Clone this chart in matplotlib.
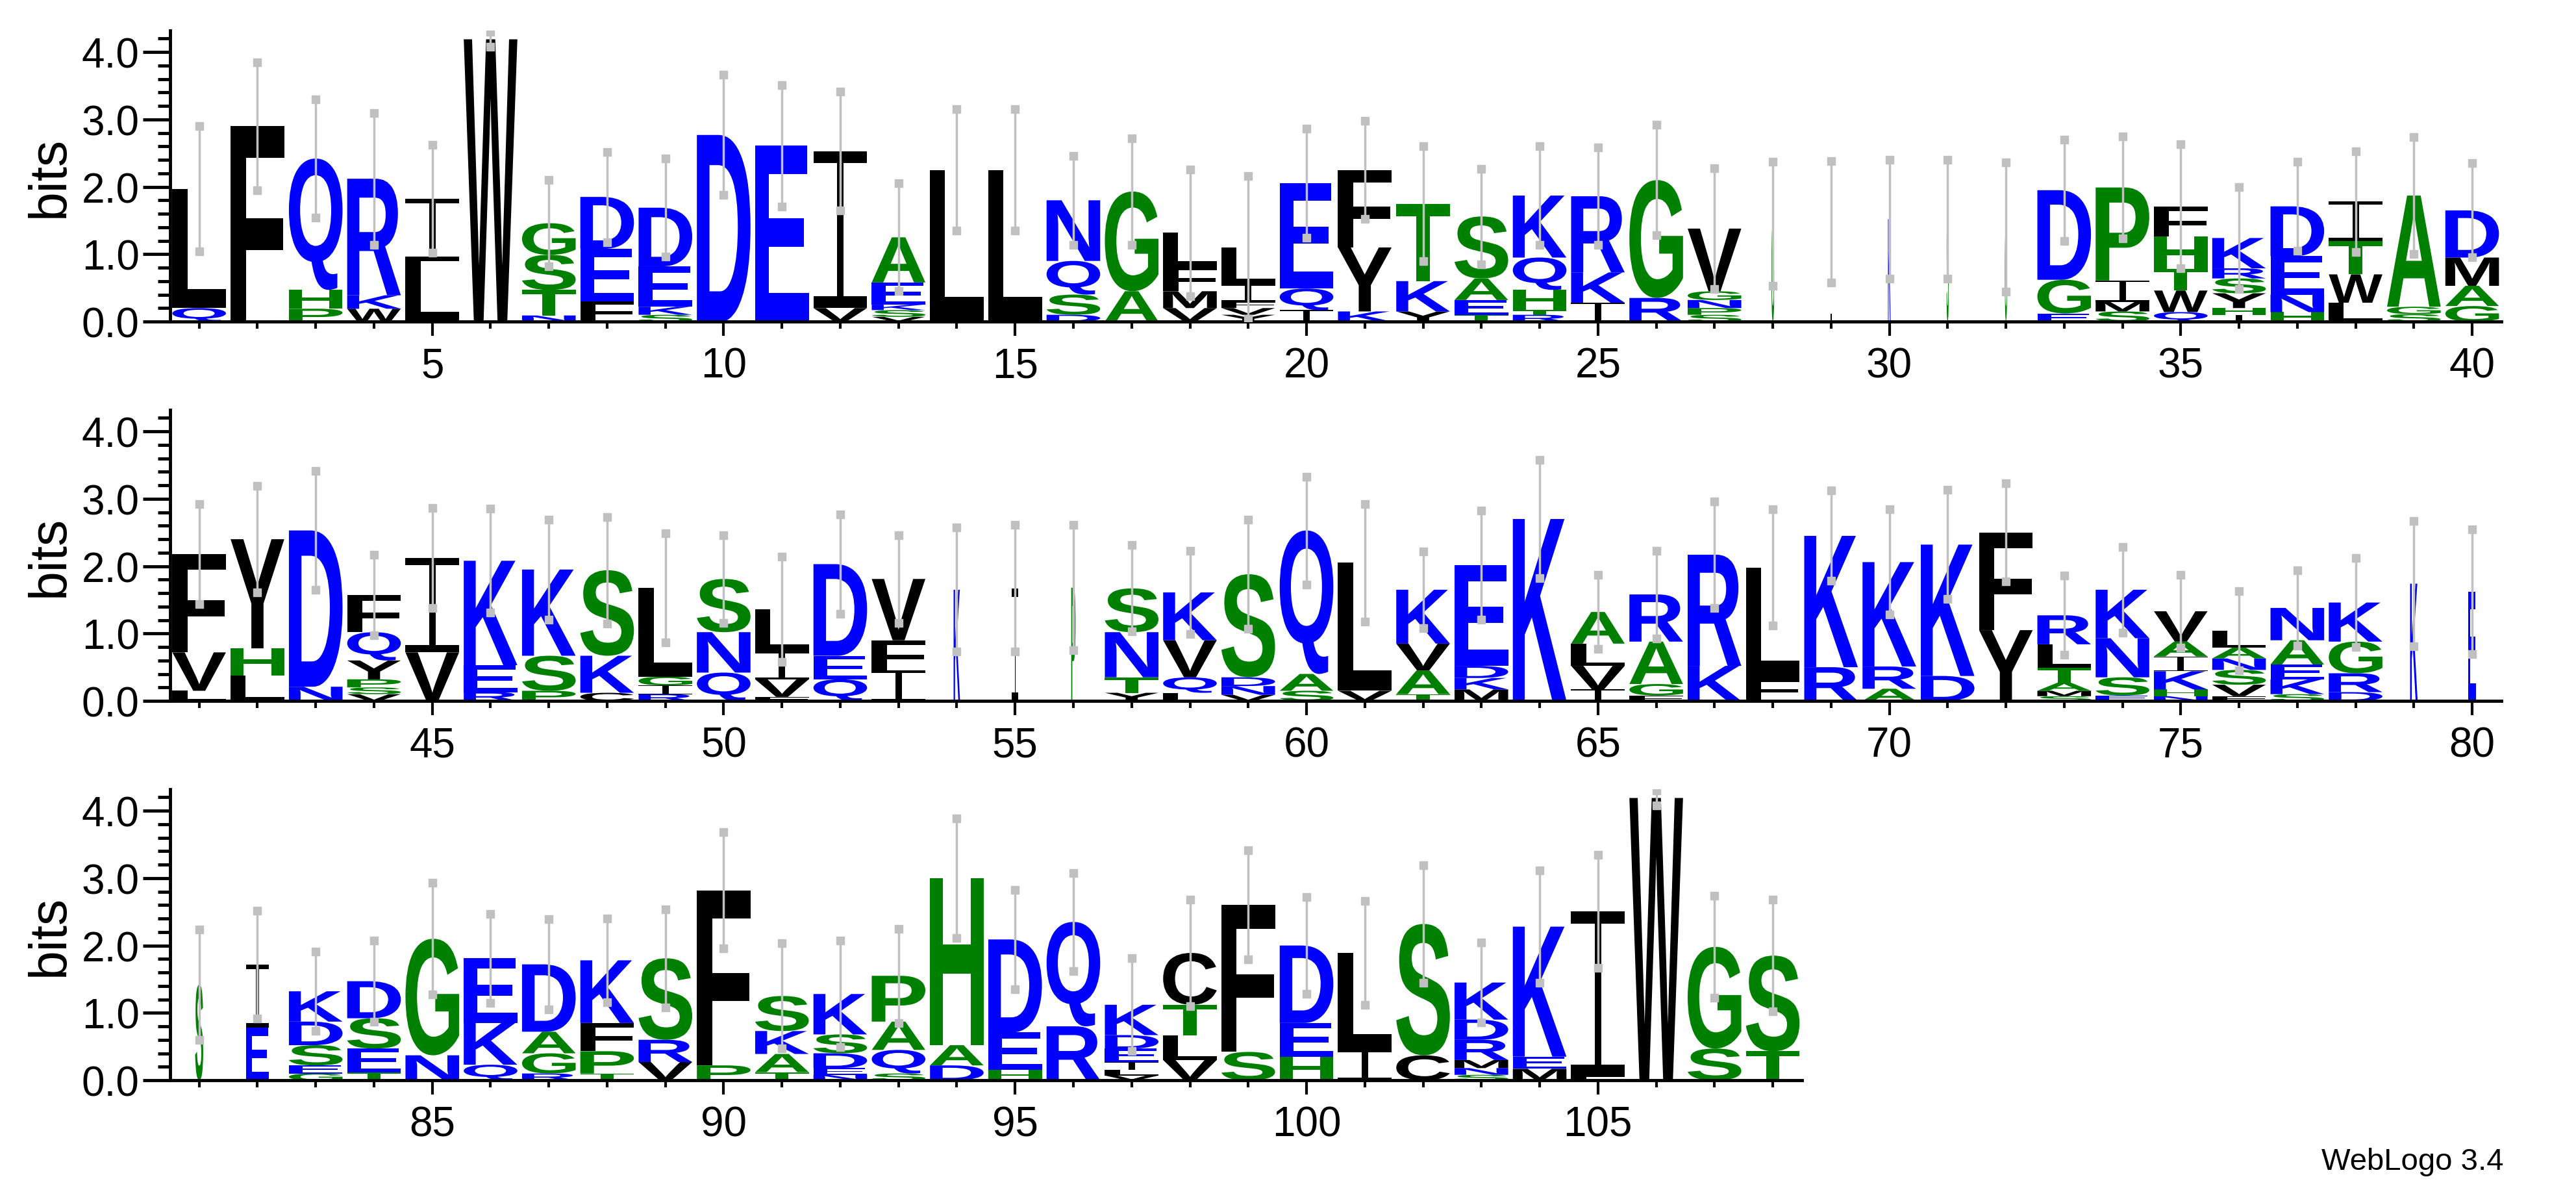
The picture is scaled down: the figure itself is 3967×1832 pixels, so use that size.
import matplotlib
matplotlib.use('Agg')
import matplotlib.pyplot as plt
from matplotlib.textpath import TextPath
from matplotlib.patches import PathPatch, Rectangle
from matplotlib.font_manager import FontProperties
from matplotlib.transforms import Affine2D
from matplotlib.ticker import MultipleLocator

# each column: letters bottom -> top with height in bits
columns = [
    "Q:0.20 L:1.77", "F:2.90", "P:0.19 H:0.28 Q:1.95", "W:0.19 K:0.20 R:1.73",
    "L:0.90 I:0.92", "W:4.19", "N:0.09 T:0.38 S:0.52 G:0.47", "F:0.30 E:0.78 D:0.77",
    "S:0.10 K:0.12 E:0.60 D:0.87", "D:2.77", "E:2.61", "V:0.20 I:2.33",
    "V:0.07 S:0.10 K:0.08 E:0.33 A:0.67", "L:2.25", "L:2.25", "D:0.10 S:0.30 Q:0.50 N:0.90",
    "A:0.45 G:1.48", "V:0.20 M:0.25 F:0.37 L:0.50", "Y:0.10 V:0.10 F:0.10 I:0.25 L:0.55",
    "I:0.17 Q:0.32 E:1.56", "K:0.15 Y:0.95 F:1.15", "Y:0.15 K:0.45 T:1.15",
    "T:0.10 E:0.22 A:0.32 S:0.92", "R:0.10 T:0.07 H:0.30 Q:0.48 K:0.92",
    "I:0.28 K:0.45 R:1.13", "R:0.35 G:1.75", "S:0.10 P:0.10 N:0.12 G:0.13 V:0.93",
    "G:1.45", "I:1.48", "K:1.52", "S:1.52", "G:1.40",
    "E:0.12 G:0.50 D:1.33", "S:0.15 M:0.14 I:0.32 P:1.38", "Q:0.14 W:0.32 T:0.32 H:0.48 F:0.45",
    "I:0.10 H:0.10 Y:0.22 S:0.22 R:0.15 K:0.45", "H:0.14 N:0.26 E:0.57 D:0.74",
    "L:0.28 W:0.42 T:0.50 I:0.58", "S:0.11 G:0.11 A:1.65", "G:0.23 A:0.30 M:0.42 D:0.70",
    # 41-80
    "L:0.15 V:0.57 F:1.46", "L:0.38 H:0.40 Y:1.62", "N:0.21 D:2.32",
    "V:0.10 S:0.10 P:0.12 Y:0.28 Q:0.42 F:0.55", "V:0.72 I:1.40", "R:0.13 E:0.40 K:1.55",
    "P:0.15 S:0.52 K:1.28", "C:0.12 K:0.55 S:1.27", "R:0.10 I:0.13 G:0.13 L:1.32",
    "Q:0.42 N:0.60 S:0.79", "F:0.06 V:0.26 I:0.42 L:0.62", "Q:0.32 E:0.35 D:1.36",
    "I:0.45 F:0.45 V:0.91", "K:1.65", "I:1.67", "P:1.68",
    "Y:0.12 T:0.23 N:0.67 S:0.65", "L:0.12 Q:0.23 V:0.55 K:0.71",
    "V:0.09 N:0.13 D:0.13 S:1.53", "S:0.15 A:0.25 Q:2.13", "V:0.15 L:1.90",
    "T:0.10 A:0.35 V:0.40 K:0.80", "M:0.17 K:0.17 D:0.18 E:1.50", "K:2.70",
    "I:0.17 V:0.35 L:0.33 A:0.47", "F:0.08 G:0.17 A:0.63 R:0.70", "K:0.52 R:1.65",
    "F:0.33 L:1.65", "R:0.50 K:1.95", "A:0.18 R:0.33 K:1.55", "D:0.37 K:1.95",
    "Y:1.05 F:1.45", "S:0.07 M:0.08 A:0.12 T:0.22 L:0.35 R:0.43", "E:0.08 S:0.27 N:0.58 K:0.72",
    "N:0.07 H:0.10 K:0.27 I:0.22 A:0.22 V:0.45", "F:0.07 V:0.17 S:0.22 N:0.17 A:0.16 L:0.25",
    "S:0.10 K:0.22 E:0.22 A:0.36 N:0.48", "D:0.13 R:0.28 G:0.47 K:0.58", "K:1.74", "E:1.62",
    # 81-108
    "S:1.42", "E:0.78 I:0.94", "G:0.10 E:0.12 S:0.30 D:0.35 K:0.45", "T:0.12 E:0.35 S:0.45 D:0.55",
    "N:0.37 G:1.73", "Q:0.23 K:0.62 E:0.96", "R:0.10 G:0.30 A:0.32 D:1.00",
    "T:0.10 P:0.33 F:0.42 K:0.93", "V:0.27 R:0.33 S:1.21", "P:0.22 F:2.60",
    "T:0.12 A:0.27 K:0.34 S:0.52", "N:0.08 E:0.10 D:0.22 S:0.28 K:0.60", "S:0.10 Q:0.35 A:0.42 P:0.68",
    "D:0.22 A:0.30 H:2.48", "H:0.15 E:0.56 D:1.38", "R:0.80 Q:1.55",
    "V:0.07 L:0.08 I:0.12 E:0.20 D:0.20 K:0.45", "V:0.30 L:0.37 T:0.45 C:0.77", "S:0.42 F:2.18",
    "H:0.35 E:0.50 D:1.15", "I:0.45 L:1.44", "C:0.37 S:1.95",
    "S:0.08 N:0.10 M:0.12 R:0.30 D:0.30 K:0.55", "M:0.17 E:0.18 K:1.93", "L:0.05 I:2.46",
    "W:4.19", "S:0.47 G:1.51", "T:0.43 S:1.42",
]

bar_tops = [
    2.90, 3.85, 3.30, 3.10, 2.62, 4.30, 2.10, 2.52, 2.42, 3.66,
    3.51, 3.41, 2.05, 3.15, 3.15, 2.46, 2.72, 2.26, 2.16, 2.86,
    2.98, 2.60, 2.27, 2.60, 2.58, 2.92, 2.28, 2.37, 2.38, 2.40,
    2.40, 2.36, 2.70, 2.75, 2.63, 2.00, 2.37, 2.53, 2.74, 2.35,
    2.92, 3.19, 3.41, 2.17, 2.86, 2.85, 2.69, 2.73, 2.49, 2.46,
    2.14, 2.77, 2.46, 2.57, 2.61, 2.61, 2.31, 2.23, 2.69, 3.33,
    2.92, 2.22, 2.83, 3.58, 1.87, 2.23, 2.96, 2.84, 3.12, 2.84,
    3.13, 3.23, 1.86, 2.29, 1.87, 1.63, 1.94, 2.12, 2.67, 2.55,
    2.24, 2.52, 1.91, 2.07, 2.93, 2.47, 2.39, 2.40, 2.54, 3.68,
    2.03, 2.07, 2.25, 3.89, 2.83, 3.08, 1.81, 2.68, 3.41, 2.72,
    2.66, 3.19, 2.04, 3.11, 3.35, 4.30, 2.74, 2.68,
]

# columns with low occupancy are drawn narrow
narrow = {28: 0.05, 29: 0.03, 30: 0.05, 31: 0.04, 32: 0.04, 54: 0.12, 55: 0.12,
          56: 0.08, 79: 0.14, 80: 0.14, 81: 0.15, 82: 0.43}

row_ranges = [(1, 40), (41, 80), (81, 108)]

blue = '#0000FF'
green = '#008000'
black = '#000000'
colour_of = {}
for c in "DEKRNQ":
    colour_of[c] = blue
for c in "GSTAPH":
    colour_of[c] = green
for c in "LFIVWMYC":
    colour_of[c] = black

fp = FontProperties(family='Liberation Sans', weight='bold')
tick_font = ['Liberation Sans Narrow', 'Liberation Sans', 'DejaVu Sans']


def draw_letter(ax, ch, x, y0, w, h, color):
    if ch == 'I':
        # serif I as drawn by WebLogo
        bar = h * 0.075
        stem = w * 0.12
        ax.add_patch(Rectangle((x - w / 2, y0), w, bar, fc=color, ec='none', zorder=2))
        ax.add_patch(Rectangle((x - w / 2, y0 + h - bar), w, bar, fc=color, ec='none', zorder=2))
        ax.add_patch(Rectangle((x - stem / 2, y0), stem, h, fc=color, ec='none', zorder=2))
        return
    tp = TextPath((0, 0), ch, size=1, prop=fp)
    ext = tp.get_extents()
    tr = Affine2D().translate(-ext.x0, -ext.y0).scale(w / ext.width, h / ext.height).translate(x - w / 2, y0)
    ax.add_patch(PathPatch(tr.transform_path(tp), fc=color, ec='none', zorder=2))


fig = plt.figure(figsize=(39.67, 18.33), dpi=100)
bottoms = [0.7294, 0.4108, 0.0922]
left = 0.066
full_w = 0.971 - 0.066

for (start, stop), b in zip(row_ranges, bottoms):
    n = stop - start + 1
    ax = fig.add_axes([left, b, full_w * n / 40, 0.2444])
    for pos in range(start, stop + 1):
        y = 0.0
        w = 0.92 * narrow.get(pos, 1.0)
        for item in columns[pos - 1].split():
            ch, h = item.split(':')
            h = float(h)
            draw_letter(ax, ch, pos, y, w, h, colour_of[ch])
            y += h
        top = bar_tops[pos - 1]
        low = y - (top - y)
        ax.plot([pos, pos], [low, top], color='#c0c0c0', lw=2.5, zorder=3)
        ax.plot([pos, pos], [low, top], ls='none', marker='s', ms=8, color='#c0c0c0', zorder=3)
    ax.set_xlim(start - 0.5, stop + 0.5)
    ax.set_ylim(0, 4.32)
    for s in ['top', 'right']:
        ax.spines[s].set_visible(False)
    for s in ['left', 'bottom']:
        ax.spines[s].set_linewidth(3.5)
    ax.yaxis.set_minor_locator(MultipleLocator(0.2))
    ax.set_yticks([0, 1, 2, 3, 4])
    ax.set_yticklabels(['0.0', '1.0', '2.0', '3.0', '4.0'])
    ax.tick_params(axis='y', which='major', length=30, width=3.5, direction='out', pad=4)
    ax.tick_params(axis='y', which='minor', length=14, width=3.5, direction='out')
    ax.set_xticks(range(start, stop + 1), minor=True)
    fives = [p for p in range(start, stop + 1) if p % 5 == 0]
    ax.set_xticks(fives)
    ax.set_xticklabels([str(p) for p in fives])
    ax.tick_params(axis='x', which='major', length=16, width=3, direction='out', pad=12)
    ax.tick_params(axis='x', which='minor', length=8, width=3, direction='out')
    for lab in ax.get_xticklabels() + ax.get_yticklabels():
        lab.set_fontfamily(tick_font)
        lab.set_fontsize(46)
    ax.set_ylabel('bits', fontsize=58, family=['Liberation Sans', 'DejaVu Sans'], labelpad=8)

fig.text(0.972, 0.012, 'WebLogo 3.4', ha='right', va='bottom', fontsize=34,
         family=tick_font)

fig.savefig('out.png', dpi=100)
